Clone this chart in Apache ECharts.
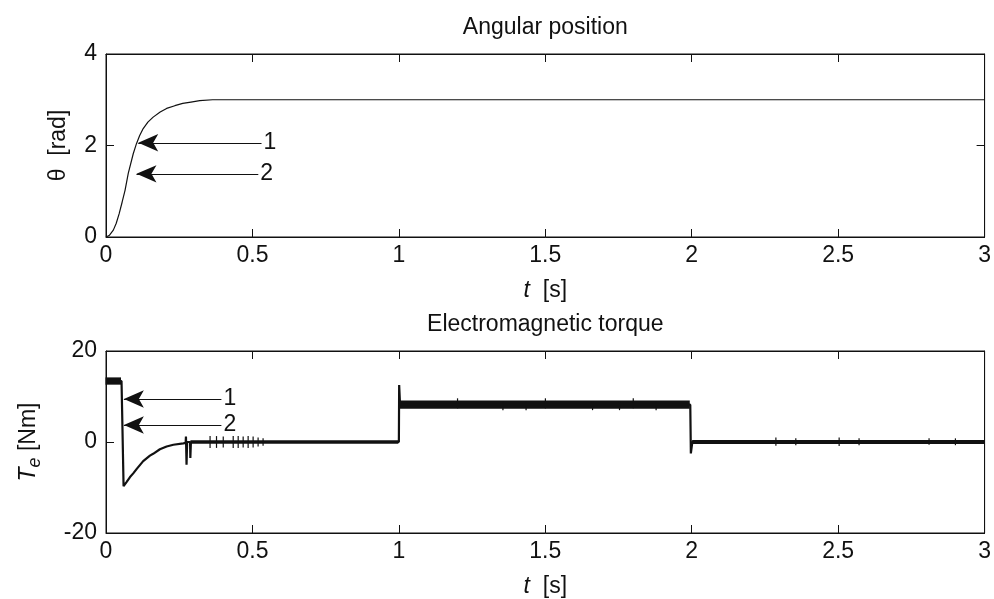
<!DOCTYPE html>
<html>
<head>
<meta charset="utf-8">
<script src="https://cdn.jsdelivr.net/npm/echarts@6/dist/echarts.min.js"></script>
<style>
html, body { margin: 0; padding: 0; background: #fff; }
#chart { width: 994px; height: 599px; }
</style>
</head>
<body>
<div id="chart"></div>
<script>
// angular position
const thetaT = [0, 0.012, 0.025, 0.035, 0.045, 0.055, 0.065, 0.076, 0.093, 0.104, 0.115, 0.127, 0.143, 0.161, 0.185, 0.207, 0.235, 0.262, 0.29, 0.32, 0.364, 0.4, 3]
const thetaV = [0, 0.04, 0.15, 0.3, 0.51, 0.76, 1.02, 1.39, 1.82, 2.04, 2.22, 2.37, 2.51, 2.62, 2.73, 2.81, 2.87, 2.92, 2.95, 2.98, 3.0, 3.0, 3.0]

// electromagnetic torque, main trace
const torqueT = [0, 0.053, 0.055, 0.06, 0.064, 0.07, 0.082, 0.093, 0.105, 0.127, 0.15, 0.161, 0.184, 0.207, 0.23, 0.264, 0.272, 0.273, 0.275, 0.277, 0.287, 0.288, 0.29, 1.0, 1.001, 1.004, 1.995, 1.997, 2.002, 3]
const torqueV = [13.4, 13.4, 7, -9.7, -9.4, -8.8, -7.7, -6.9, -5.9, -4.2, -3.0, -2.6, -1.6, -1.0, -0.6, -0.3, -0.2, 1.2, -5.0, 0, 0, -3.5, 0, 0, 12.5, 8.2, 8.2, -2.5, 0, 0]

// noise bands [t0, t1, lo, hi]
const bandT0 = [0, 0.29, 1.003, 2.003]
const bandT1 = [0.053, 1.0, 1.995, 3]
const bandLo = [12.6, -0.4, 7.3, -0.45]
const bandHi = [14.2, 0.4, 9.1, 0.45]

// single noise spikes
const spikeT = [0.355, 0.377, 0.4, 0.434, 0.451, 0.468, 0.485, 0.502, 0.519, 0.536, 1.355, 1.434, 1.661, 1.753, 1.878, 1.2, 1.5, 1.8, 2.287, 2.355, 2.503, 2.571, 2.81, 2.9]
const spikeLo = [-1.3, -1.3, -1.2, -1.3, -1.3, -1.2, -1.3, -1.2, -1.0, -0.8, 7.0, 7.0, 7.0, 7.0, 7.0, 7.4, 7.4, 7.4, -0.8, -0.7, -0.9, -0.7, -0.6, -0.7]
const spikeHi = [1.3, 1.3, 1.2, 1.3, 1.3, 1.2, 1.3, 1.2, 1.0, 0.8, 9.0, 9.0, 9.0, 9.0, 9.0, 9.6, 9.6, 9.6, 1.0, 0.8, 1.0, 0.8, 0.8, 0.8]

// arrows: tip, tail, label
const topArrowTip = [[0.11, 2.06], [0.104, 1.38]]
const topArrowTail = [[0.531, 2.06], [0.52, 1.38]]
const botArrowTip = [[0.061, 9.45], [0.061, 3.74]]
const botArrowTail = [[0.394, 9.45], [0.394, 3.74]]
const arrowLabels = ["1", "2"]

const xTicks = [0, 3, 0.5]
const thetaTicks = [0, 4, 2]
const torqueTicks = [-20, 20, 20]

const FONT = "Liberation Sans, Arial, Helvetica, sans-serif"
const INK = "#111"

let thetaData = thetaT.map((t, i) => [t, thetaV[i]])
let torqueData = torqueT.map((t, i) => [t, torqueV[i]])
let bandData = bandT0.map((t, i) => [t, bandT1[i], bandLo[i], bandHi[i]])
    .concat(spikeT.map((t, i) => [t, t, spikeLo[i], spikeHi[i]]))

function arrows(tips, tails) {
    return tips.map((tip, i) => [
        {coord: tip, symbol: "arrow"},
        {coord: tails[i], symbol: "none", label: {show: true, position: "end", formatter: arrowLabels[i], distance: 2, color: INK, fontSize: 23, fontFamily: FONT}}
    ])
}

function xAxes(grid, title, titleGap) {
    let base = {
        gridIndex: grid, type: "value", min: xTicks[0], max: xTicks[1], interval: xTicks[2],
        axisLine: {show: true, onZero: false, lineStyle: {color: INK, width: 1}},
        axisTick: {show: true, inside: true, length: 8, lineStyle: {color: INK}},
        splitLine: {show: false}
    }
    return [
        Object.assign({}, base, {
            position: "bottom",
            axisLabel: {color: INK, fontSize: 23, fontFamily: FONT, margin: 7},
            name: "{i|t}  [s]", nameLocation: "middle", nameGap: 42,
            nameTextStyle: {color: INK, fontSize: 23, fontFamily: FONT, rich: {i: {fontStyle: "italic", fontSize: 23, fontFamily: FONT, color: INK}}}
        }),
        Object.assign({}, base, {
            position: "top",
            axisLabel: {show: false},
            name: title, nameLocation: "middle", nameGap: 15,
            nameTextStyle: {color: INK, fontSize: 23, fontFamily: FONT}
        })
    ]
}

function yAxes(grid, ticks, name, gap, rich) {
    let base = {
        gridIndex: grid, type: "value", min: ticks[0], max: ticks[1], interval: ticks[2],
        axisLine: {show: true, onZero: false, lineStyle: {color: INK, width: 1}},
        axisTick: {show: true, inside: true, length: 8, lineStyle: {color: INK}},
        splitLine: {show: false}
    }
    return [
        Object.assign({}, base, {
            position: "left",
            axisLabel: {color: INK, fontSize: 23, fontFamily: FONT, margin: 9},
            name: name, nameLocation: "middle", nameGap: gap, nameRotate: 90,
            nameTextStyle: {color: INK, fontSize: 23, fontFamily: FONT, lineHeight: 30, rich: rich}
        }),
        Object.assign({}, base, {position: "right", axisLabel: {show: false}})
    ]
}

let chart = echarts.init(document.getElementById("chart"), null, {renderer: "canvas"})
chart.setOption({
    animation: false,
    backgroundColor: "#fff",
    grid: [
        {left: 106, top: 54, width: 880, height: 183, show: true, borderColor: INK, borderWidth: 1, backgroundColor: "transparent"},
        {left: 106, top: 351, width: 880, height: 183, show: true, borderColor: INK, borderWidth: 1, backgroundColor: "transparent"}
    ],
    xAxis: xAxes(0, "Angular position").concat(xAxes(1, "Electromagnetic torque")),
    yAxis: yAxes(0, thetaTicks, "θ  [rad]", 31, {})
        .concat(yAxes(1, torqueTicks, "{i|T}{s|e} [Nm]", 62, {
            i: {fontStyle: "italic", fontSize: 23, fontFamily: FONT, color: INK, lineHeight: 30},
            s: {fontStyle: "italic", fontSize: 18, fontFamily: FONT, color: INK, lineHeight: 18, verticalAlign: "bottom"}
        })),
    series: [
        {
            type: "line", xAxisIndex: 0, yAxisIndex: 0, data: thetaData,
            showSymbol: false, symbol: "none", lineStyle: {color: INK, width: 1.2},
            markLine: {
                silent: true, symbolSize: [13, 20], animation: false,
                lineStyle: {color: INK, width: 1.2, type: "solid"},
                label: {show: false},
                data: arrows(topArrowTip, topArrowTail)
            }
        },
        {
            type: "custom", xAxisIndex: 2, yAxisIndex: 2, data: bandData,
            encode: {x: [0, 1], y: [2, 3]},
            renderItem: function (params, api) {
                let p0 = api.coord([api.value(0), api.value(3)])
                let p1 = api.coord([api.value(1), api.value(2)])
                return {
                    type: "rect",
                    shape: {x: p0[0] - 0.5, y: p0[1], width: Math.max(p1[0] - p0[0], 1.2), height: p1[1] - p0[1]},
                    style: {fill: INK}
                }
            }
        },
        {
            type: "line", xAxisIndex: 2, yAxisIndex: 2, data: torqueData,
            showSymbol: false, symbol: "none", lineStyle: {color: INK, width: 2.2},
            markLine: {
                silent: true, symbolSize: [13, 20], animation: false,
                lineStyle: {color: INK, width: 1.2, type: "solid"},
                label: {show: false},
                data: arrows(botArrowTip, botArrowTail)
            }
        }
    ]
})
</script>
</body>
</html>
